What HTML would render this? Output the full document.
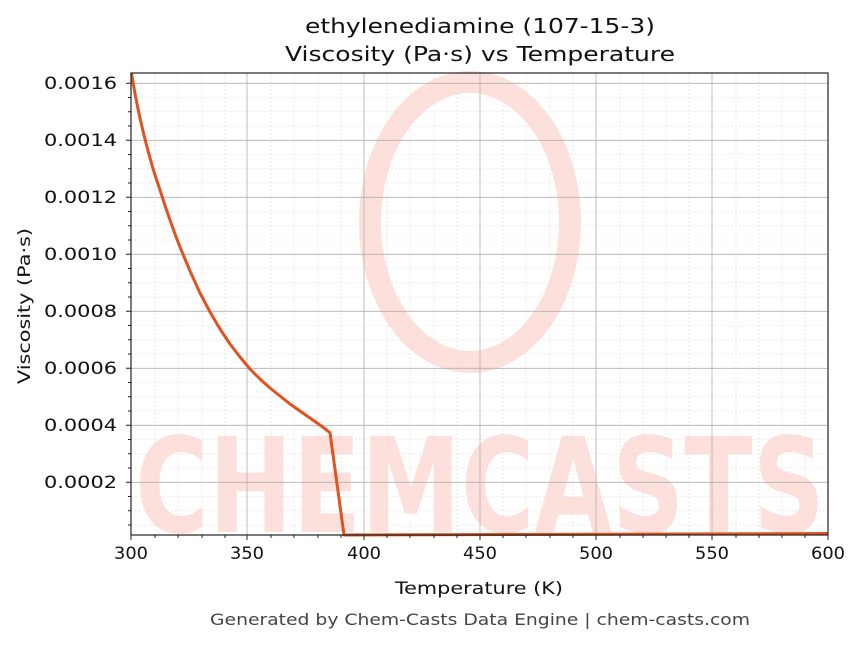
<!DOCTYPE html>
<html><head><meta charset="utf-8"><style>
body{margin:0;background:#fff;}
svg text{font-family:"DejaVu Sans","Liberation Sans",sans-serif;}
</style></head><body>
<svg width="863" height="644" viewBox="0 0 863 644" xmlns="http://www.w3.org/2000/svg">
<rect width="863" height="644" fill="#fff"/>
<!-- watermark -->
<g>
<ellipse cx="470" cy="222" rx="100" ry="140" fill="none" stroke="#fde0dc" stroke-width="22"/>
<text x="480" y="532" text-anchor="middle" font-size="132" font-weight="bold" fill="#fde0dc" textLength="690" lengthAdjust="spacingAndGlyphs" style="font-family:'DejaVu Sans',sans-serif">CHEMCASTS</text>
</g>
<!-- minor grid -->
<g stroke="#ddd" stroke-width="0.6" stroke-dasharray="2,2">
<path d="M155,73V535M178,73V535M202,73V535M225,73V535M271,73V535M294,73V535M318,73V535M341,73V535M387,73V535M410,73V535M434,73V535M457,73V535M503,73V535M526,73V535M550,73V535M573,73V535M620,73V535M643,73V535M666,73V535M689,73V535M736,73V535M759,73V535M782,73V535M805,73V535"/>
<path d="M131,97.5H828M131,111.8H828M131,126H828M131,154.5H828M131,168.8H828M131,183H828M131,211.5H828M131,225.8H828M131,240H828M131,268.5H828M131,282.8H828M131,297H828M131,325.5H828M131,339.8H828M131,354H828M131,382.5H828M131,396.8H828M131,411H828M131,439.5H828M131,453.8H828M131,468H828M131,496.5H828M131,510.8H828M131,525H828"/>
</g>
<!-- major grid -->
<g stroke="#b0b0b0" stroke-width="0.8">
<path d="M247,73V535M364,73V535M480,73V535M596,73V535M712,73V535"/>
<path d="M131,83.3H828M131,140.3H828M131,197.3H828M131,254.3H828M131,311.3H828M131,368.3H828M131,425.3H828M131,482.3H828"/>
</g>
<!-- curve -->
<polyline fill="none" stroke="#e0531f" stroke-width="3" stroke-linejoin="round" points="131.5,73.5 134,88 137,104 140,118 143,131 146.5,145 150,158 153,168.5 156,178 161,193 165.5,207 170,220 175,234 180,247 185,259 190,271 195,282 200,293 205,302.5 210,312 215,320.5 220,329 225,336.5 230,344 235,350.5 240,357 245,363 250,369 255,374 260,379 265,383.5 270,388 280,396 290,404 300,411 310,418 320,425 330,432.7 344,535 828,533.5"/>
<!-- axes -->
<rect x="131" y="73" width="697" height="462" fill="none" stroke="#222" stroke-width="1.2"/>
<g stroke="#222" stroke-width="1">
<path d="M131,535v5M247,535v5M364,535v5M480,535v5M596,535v5M712,535v5M828,535v5"/>
<path d="M155,535v3M178,535v3M202,535v3M225,535v3M271,535v3M294,535v3M318,535v3M341,535v3M387,535v3M410,535v3M434,535v3M457,535v3M503,535v3M526,535v3M550,535v3M573,535v3M620,535v3M643,535v3M666,535v3M689,535v3M736,535v3M759,535v3M782,535v3M805,535v3"/>
<path d="M131,83.3h-5M131,140.3h-5M131,197.3h-5M131,254.3h-5M131,311.3h-5M131,368.3h-5M131,425.3h-5M131,482.3h-5"/>
<path d="M131,97.5h-3M131,111.8h-3M131,126h-3M131,154.5h-3M131,168.8h-3M131,183h-3M131,211.5h-3M131,225.8h-3M131,240h-3M131,268.5h-3M131,282.8h-3M131,297h-3M131,325.5h-3M131,339.8h-3M131,354h-3M131,382.5h-3M131,396.8h-3M131,411h-3M131,439.5h-3M131,453.8h-3M131,468h-3M131,496.5h-3M131,510.8h-3M131,525h-3"/>
</g>
<g font-size="17" fill="#111">
<text x="44" y="89" textLength="73" lengthAdjust="spacingAndGlyphs">0.0016</text>
<text x="44" y="146" textLength="73" lengthAdjust="spacingAndGlyphs">0.0014</text>
<text x="44" y="203" textLength="73" lengthAdjust="spacingAndGlyphs">0.0012</text>
<text x="44" y="260" textLength="73" lengthAdjust="spacingAndGlyphs">0.0010</text>
<text x="44" y="317" textLength="73" lengthAdjust="spacingAndGlyphs">0.0008</text>
<text x="44" y="374" textLength="73" lengthAdjust="spacingAndGlyphs">0.0006</text>
<text x="44" y="431" textLength="73" lengthAdjust="spacingAndGlyphs">0.0004</text>
<text x="44" y="488" textLength="73" lengthAdjust="spacingAndGlyphs">0.0002</text>
</g>
<g font-size="17" fill="#111">
<text x="114" y="559" textLength="34" lengthAdjust="spacingAndGlyphs">300</text>
<text x="230" y="559" textLength="34" lengthAdjust="spacingAndGlyphs">350</text>
<text x="347" y="559" textLength="34" lengthAdjust="spacingAndGlyphs">400</text>
<text x="463" y="559" textLength="34" lengthAdjust="spacingAndGlyphs">450</text>
<text x="579" y="559" textLength="34" lengthAdjust="spacingAndGlyphs">500</text>
<text x="695" y="559" textLength="34" lengthAdjust="spacingAndGlyphs">550</text>
<text x="811" y="559" textLength="34" lengthAdjust="spacingAndGlyphs">600</text>
<text x="395" y="594" textLength="168" lengthAdjust="spacingAndGlyphs">Temperature (K)</text>
<text x="305" y="33" font-size="20" textLength="350" lengthAdjust="spacingAndGlyphs">ethylenediamine (107-15-3)</text>
<text x="285" y="61" font-size="20" textLength="390" lengthAdjust="spacingAndGlyphs">Viscosity (Pa·s) vs Temperature</text>
<text x="210" y="625" font-size="16" fill="#444" textLength="540" lengthAdjust="spacingAndGlyphs">Generated by Chem-Casts Data Engine | chem-casts.com</text>
<text transform="translate(30,384) rotate(-90)" textLength="156" lengthAdjust="spacingAndGlyphs">Viscosity (Pa·s)</text>
</g>
</svg>
</body></html>
